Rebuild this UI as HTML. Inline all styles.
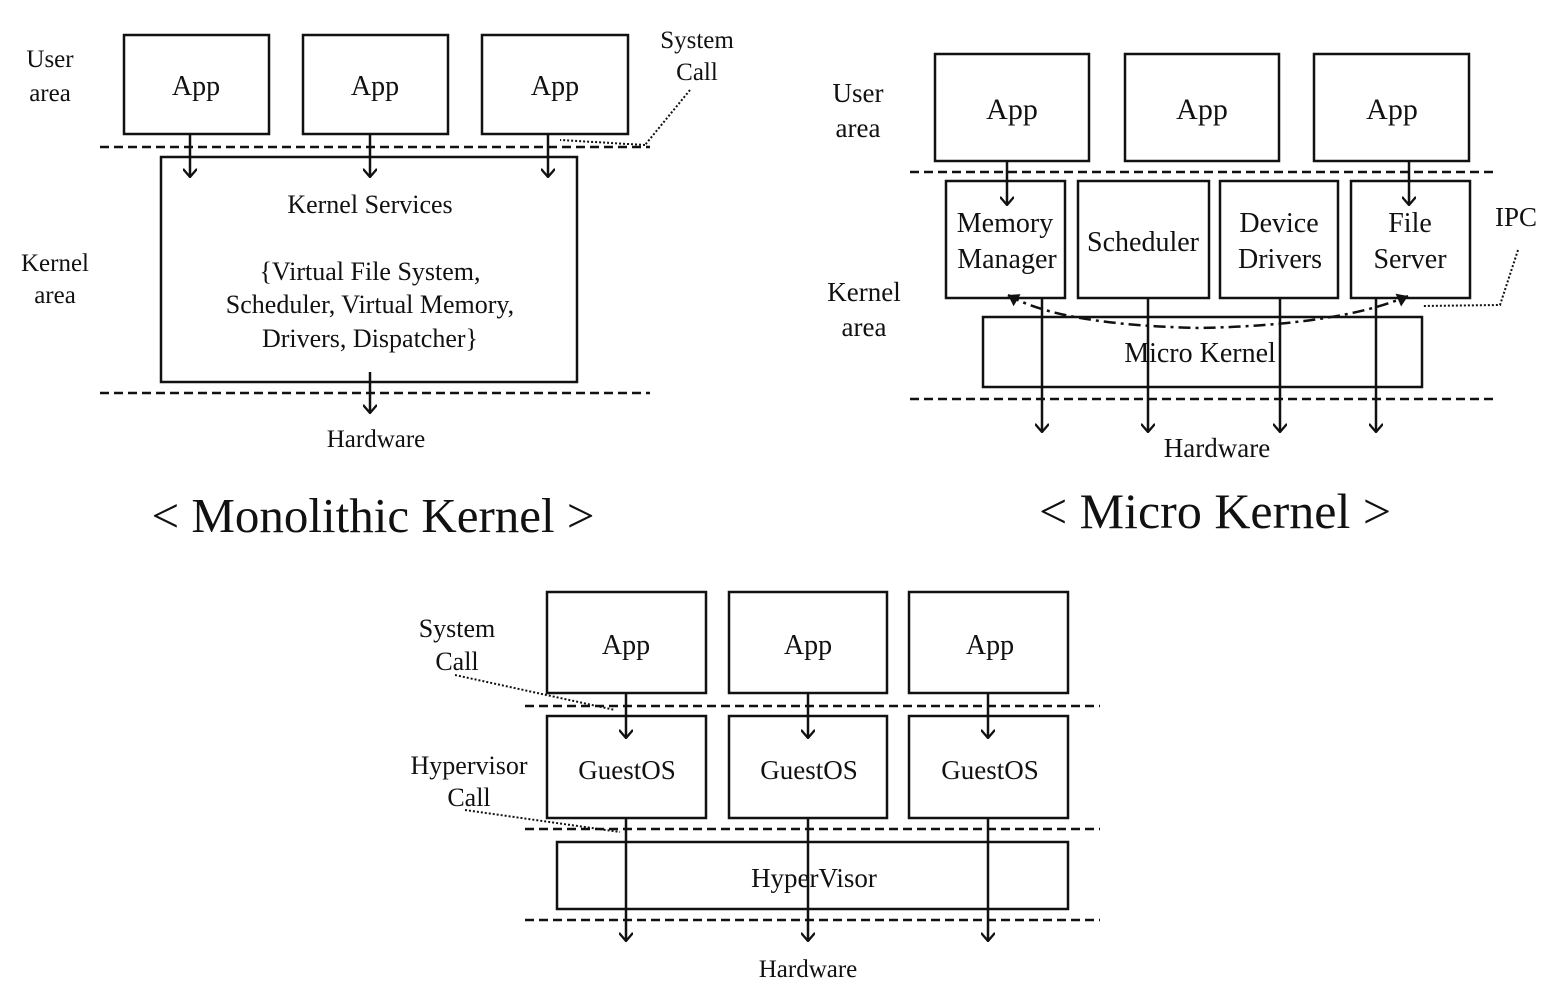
<!DOCTYPE html>
<html><head><meta charset="utf-8"><style>
html,body{margin:0;padding:0;background:#fff;}
svg{display:block;}
text{font-family:"Liberation Serif",serif;fill:#111;}
</style></head><body>
<svg width="1544" height="1000" viewBox="0 0 1544 1000" xmlns="http://www.w3.org/2000/svg">
<defs>
<marker id="a" viewBox="0 0 12 12" refX="11" refY="6" markerWidth="14" markerHeight="14" markerUnits="userSpaceOnUse" orient="auto">
<path d="M4,0 L11,6 L4,12" fill="none" stroke="#111" stroke-width="2"/></marker>
<marker id="b" viewBox="0 0 12 12" refX="11" refY="6" markerWidth="14" markerHeight="14" markerUnits="userSpaceOnUse" orient="auto-start-reverse">
<path d="M2,0 L11,6 L2,12 Z" fill="#111"/></marker>
</defs>
<g fill="none" stroke="#111" stroke-width="2.5">
<rect x="124" y="35" width="145" height="99"/>
<rect x="303" y="35" width="145" height="99"/>
<rect x="482" y="35" width="146" height="99"/>
<rect x="161" y="157" width="416" height="225"/>
<rect x="935" y="54" width="154" height="107"/>
<rect x="1125" y="54" width="154" height="107"/>
<rect x="1314" y="54" width="155" height="107"/>
<rect x="946" y="181" width="119" height="117"/>
<rect x="1078" y="181" width="131" height="117"/>
<rect x="1220" y="181" width="118" height="117"/>
<rect x="1351" y="181" width="119" height="117"/>
<rect x="983" y="317" width="439" height="70"/>
<rect x="547" y="592" width="159" height="101"/>
<rect x="729" y="592" width="158" height="101"/>
<rect x="909" y="592" width="159" height="101"/>
<rect x="547" y="716" width="159" height="102"/>
<rect x="729" y="716" width="158" height="102"/>
<rect x="909" y="716" width="159" height="102"/>
<rect x="557" y="842" width="511" height="67"/>
</g>
<g stroke="#111" stroke-width="2.5" stroke-dasharray="9,5">
<line x1="100" y1="147" x2="650" y2="147"/>
<line x1="100" y1="393" x2="650" y2="393"/>
<line x1="910" y1="172" x2="1495" y2="172"/>
<line x1="910" y1="399" x2="1495" y2="399"/>
<line x1="525" y1="706" x2="1100" y2="706"/>
<line x1="525" y1="829" x2="1100" y2="829"/>
<line x1="525" y1="920" x2="1100" y2="920"/>
</g>
<g stroke="#111" stroke-width="2.5" marker-end="url(#a)">
<line x1="190" y1="134" x2="190" y2="177"/>
<line x1="370" y1="134" x2="370" y2="177"/>
<line x1="548" y1="134" x2="548" y2="177"/>
<line x1="370" y1="372" x2="370" y2="413"/>
<line x1="1007" y1="161" x2="1007" y2="205"/>
<line x1="1409" y1="161" x2="1409" y2="205"/>
<line x1="1042" y1="298" x2="1042" y2="432"/>
<line x1="1148" y1="298" x2="1148" y2="432"/>
<line x1="1280" y1="298" x2="1280" y2="432"/>
<line x1="1376" y1="298" x2="1376" y2="432"/>
<line x1="626" y1="693" x2="626" y2="738"/>
<line x1="808" y1="693" x2="808" y2="738"/>
<line x1="988" y1="693" x2="988" y2="738"/>
<line x1="626" y1="818" x2="626" y2="941"/>
<line x1="808" y1="818" x2="808" y2="941"/>
<line x1="988" y1="818" x2="988" y2="941"/>
</g>
<path d="M1008,295 Q1060,325 1200,328 Q1340,325 1408,296" fill="none" stroke="#111" stroke-width="2.5" stroke-dasharray="12,5,3,5" marker-start="url(#b)" marker-end="url(#b)"/>
<g fill="none" stroke="#111" stroke-width="2" stroke-dasharray="2,2">
<polyline points="1518,250 1500,305 1422,306"/>
<line x1="690" y1="90" x2="645" y2="145"/>
<line x1="645" y1="145" x2="560" y2="140"/>
<line x1="455" y1="675" x2="615" y2="710"/>
<line x1="465" y1="810" x2="620" y2="832"/>
</g>
<g font-size="26" text-anchor="middle">
<text x="196" y="95" font-size="28">App</text><text x="375" y="95" font-size="28">App</text><text x="555" y="95" font-size="28">App</text>
<text x="370" y="213" font-size="26">Kernel Services</text>
<text x="370" y="280" font-size="26">{Virtual File System,</text>
<text x="370" y="313" font-size="26">Scheduler, Virtual Memory,</text>
<text x="370" y="347" font-size="26">Drivers, Dispatcher}</text>
<text x="376" y="447" font-size="25">Hardware</text>
<text x="50" y="67" font-size="25">User</text><text x="50" y="101" font-size="25">area</text>
<text x="55" y="271" font-size="25">Kernel</text><text x="55" y="303" font-size="25">area</text>
<text x="697" y="48" font-size="25">System</text><text x="697" y="80" font-size="25">Call</text>
<text x="373" y="532" font-size="49">&lt; Monolithic Kernel &gt;</text>

<text x="1012" y="119" font-size="30">App</text><text x="1202" y="119" font-size="30">App</text><text x="1392" y="119" font-size="30">App</text>
<text x="1005" y="232" font-size="28">Memory</text><text x="1007" y="268" font-size="28">Manager</text>
<text x="1143" y="251" font-size="28">Scheduler</text>
<text x="1279" y="232" font-size="28">Device</text><text x="1280" y="268" font-size="28">Drivers</text>
<text x="1410" y="232" font-size="28">File</text><text x="1410" y="268" font-size="28">Server</text>
<text x="1516" y="226" font-size="27">IPC</text>
<text x="1200" y="362" font-size="28">Micro Kernel</text>
<text x="1217" y="457" font-size="27">Hardware</text>
<text x="858" y="102" font-size="27">User</text><text x="858" y="137" font-size="27">area</text>
<text x="864" y="301" font-size="27">Kernel</text><text x="864" y="336" font-size="27">area</text>
<text x="1215" y="528" font-size="50">&lt; Micro Kernel &gt;</text>

<text x="626" y="654" font-size="28">App</text><text x="808" y="654" font-size="28">App</text><text x="990" y="654" font-size="28">App</text>
<text x="627" y="779" font-size="27">GuestOS</text><text x="809" y="779" font-size="27">GuestOS</text><text x="990" y="779" font-size="27">GuestOS</text>
<text x="814" y="887" font-size="27">HyperVisor</text>
<text x="808" y="977" font-size="25">Hardware</text>
<text x="457" y="637" font-size="26">System</text><text x="457" y="670" font-size="26">Call</text>
<text x="469" y="774" font-size="26">Hypervisor</text><text x="469" y="806" font-size="26">Call</text>
</g>
</svg>
</body></html>
